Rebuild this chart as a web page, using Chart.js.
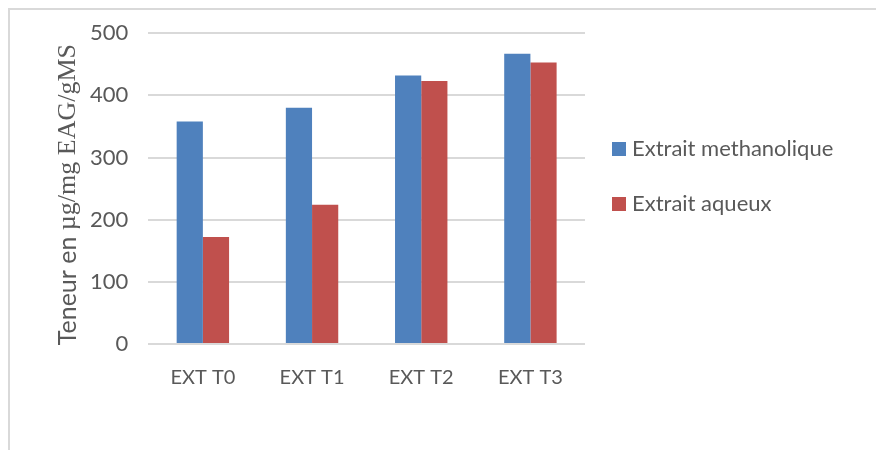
<!DOCTYPE html>
<html>
<head>
<meta charset="utf-8">
<script src="https://cdn.jsdelivr.net/npm/chart.js@4/dist/chart.umd.min.js"></script>
<style>
  html, body { margin: 0; padding: 0; background: #fff; }
  #wrap { position: relative; width: 876px; height: 450px; }
  #frame { position: absolute; left: 8px; top: 8px; right: -4px; bottom: -4px; border: 2px solid #d9d9d9; }
  canvas { position: absolute; left: 0; top: 0; }
</style>
</head>
<body>
<div id="wrap">
  <div id="frame"></div>
  <canvas id="teneurChart" width="876" height="450"></canvas>
</div>
<script>
const categories = ['EXT T0', 'EXT T1', 'EXT T2', 'EXT T3'];
const seriesNames = ['Extrait methanolique', 'Extrait aqueux'];
const methanolique = [358, 380, 432, 467];
const aqueux = [172, 224, 423, 453];
const yTicks = [0, 100, 200, 300, 400, 500];

document.addEventListener('DOMContentLoaded', function() {
    // y axis title mixes a sans part and a serif part, so it is drawn by hand
    const yTitle = {
        id: 'yTitle',
        afterDraw(chart) {
            const ctx = chart.ctx;
            const area = chart.chartArea;
            const parts = [
                { text: 'Teneur en ', font: '25px Lato' },
                { text: 'µg/mg EAG/gMS', font: '26px "Liberation Serif"' }
            ];
            ctx.save();
            let total = 0;
            parts.forEach(p => { ctx.font = p.font; p.w = ctx.measureText(p.text).width; total += p.w; });
            ctx.translate(68, (area.top + area.bottom) / 2 + 6 + total / 2);
            ctx.rotate(-Math.PI / 2);
            ctx.fillStyle = '#595959';
            ctx.textBaseline = 'middle';
            let x = 0;
            parts.forEach(p => { ctx.font = p.font; ctx.fillText(p.text, x, 0); x += p.w; });
            ctx.restore();
        }
    };

    // legend on the right, stacked, beside the plot
    const sideLegend = {
        id: 'sideLegend',
        afterDraw(chart) {
            const ctx = chart.ctx;
            const x = chart.chartArea.right + 27;
            const rows = [149, 204];
            ctx.save();
            ctx.font = '22px Lato';
            ctx.textBaseline = 'middle';
            chart.data.datasets.forEach((ds, i) => {
                ctx.fillStyle = ds.backgroundColor;
                ctx.fillRect(x, rows[i] - 7, 14, 14);
                ctx.fillStyle = '#595959';
                ctx.fillText(ds.label, x + 20, rows[i]);
            });
            ctx.restore();
        }
    };

    const ctx = document.getElementById('teneurChart').getContext('2d');
    new Chart(ctx, {
        type: 'bar',
        data: {
            labels: categories,
            datasets: [{
                label: seriesNames[0],
                data: methanolique,
                backgroundColor: '#4f81bd'
            }, {
                label: seriesNames[1],
                data: aqueux,
                backgroundColor: '#c0504d'
            }]
        },
        options: {
            responsive: false,
            animation: false,
            categoryPercentage: 0.48,
            barPercentage: 1.0,
            layout: { padding: { left: 70, top: 27, right: 291, bottom: 46 } },
            scales: {
                x: {
                    grid: { display: false },
                    border: { display: false },
                    ticks: { color: '#595959', font: { family: 'Lato', size: 20 }, padding: 14 }
                },
                y: {
                    min: 0,
                    max: 500,
                    afterBuildTicks: function(axis) {
                        axis.ticks = yTicks.map(v => ({ value: v }));
                    },
                    grid: { color: '#d9d9d9', lineWidth: 2, drawTicks: false },
                    border: { display: false },
                    ticks: { color: '#595959', font: { family: 'Lato', size: 22 }, padding: 20 }
                }
            },
            plugins: {
                legend: { display: false },
                tooltip: { enabled: false }
            }
        },
        plugins: [yTitle, sideLegend]
    });
});
</script>
</body>
</html>
